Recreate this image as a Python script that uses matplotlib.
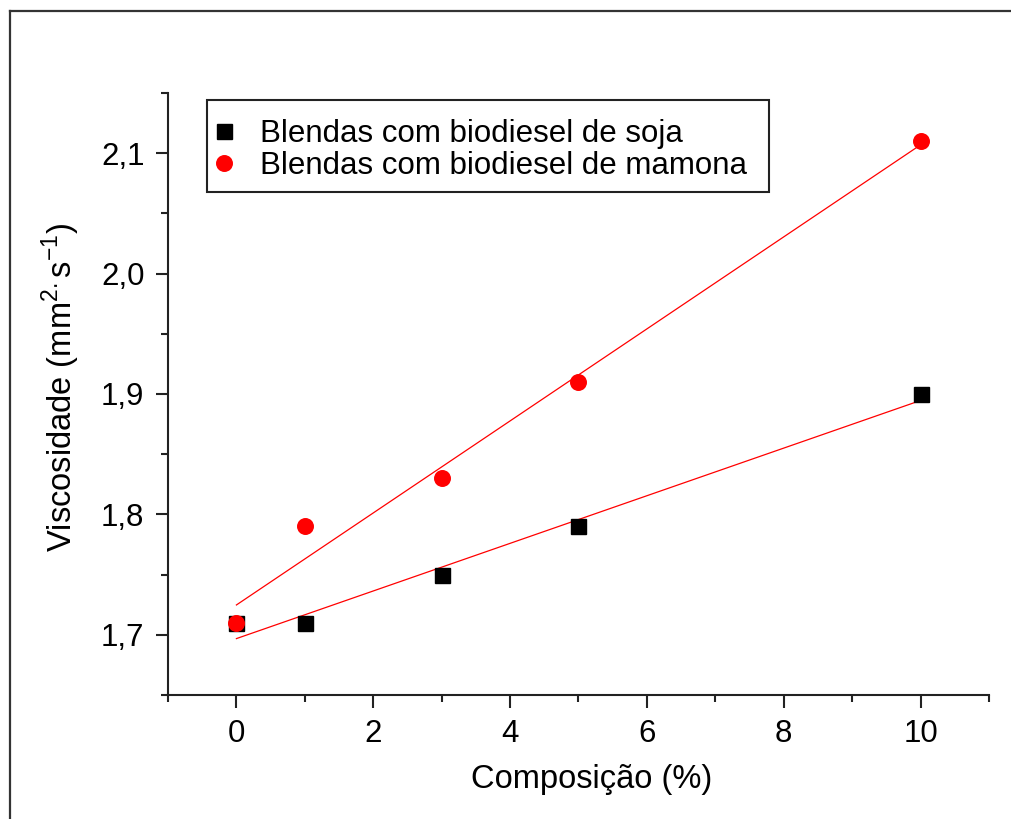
import numpy as np
import matplotlib
matplotlib.use("Agg")
import matplotlib.pyplot as plt
from matplotlib.ticker import MultipleLocator, FuncFormatter
from matplotlib.lines import Line2D
from matplotlib.patches import Rectangle

plt.rcParams['font.family'] = ['Liberation Sans', 'DejaVu Sans']

# Data
composicao = [0, 1, 3, 5, 10]
visc_soja = [1.71, 1.71, 1.75, 1.79, 1.90]
visc_mamona = [1.71, 1.79, 1.83, 1.91, 2.11]
label_soja = "Blendas com biodiesel de soja"
label_mamona = "Blendas com biodiesel de mamona"
xlabel = "Composição (%)"
ylabel = r"Viscosidade (mm$^{\mathregular{2.}}$s$^{\mathregular{-1}}$)"

W, H = 1012, 819
fig = plt.figure(figsize=(W/100, H/100), dpi=100)
ax = fig.add_axes([168/W, 1-695/H, (989-168)/W, (695-93)/H])

x = np.array(composicao, dtype=float)
for yv in (visc_soja, visc_mamona):
    p = np.polyfit(x, np.array(yv), 1)
    xs = np.array([x.min(), x.max()])
    ax.plot(xs, np.polyval(p, xs), color='red', lw=0.9, zorder=2)

ax.plot(composicao, visc_soja, ls='none', marker='s', ms=10.8, color='black',
        label=label_soja, zorder=3)
ax.plot(composicao, visc_mamona, ls='none', marker='o', ms=11.2, color='red',
        label=label_mamona, zorder=4)

ax.set_xlim(-1, 11)
ax.set_ylim(1.65, 2.15)
ax.xaxis.set_major_locator(MultipleLocator(2))
ax.xaxis.set_minor_locator(MultipleLocator(1))
ax.yaxis.set_major_locator(MultipleLocator(0.1))
ax.yaxis.set_minor_locator(MultipleLocator(0.05))
ax.yaxis.set_major_formatter(FuncFormatter(lambda v, pos: f"{v:.1f}".replace('.', ',')))
ax.xaxis.set_major_formatter(FuncFormatter(lambda v, pos: f"{v:.0f}"))

for s in ('top', 'right'):
    ax.spines[s].set_visible(False)
for s in ('left', 'bottom'):
    ax.spines[s].set_linewidth(1.5)
    ax.spines[s].set_color('#222222')

ax.tick_params(which='major', direction='out', length=9, width=1.5, labelsize=22.5,
               colors='#222222', labelcolor='black', pad=8)
ax.tick_params(which='minor', direction='out', length=5, width=1.5, colors='#222222')

ax.set_xlabel(xlabel, fontsize=23.5)
ax.xaxis.set_label_coords(0.516, -0.115)
ax.set_ylabel(ylabel, fontsize=23.5)
ax.yaxis.set_label_coords((82-168)/821, (695-387.5)/602)

# legend frame drawn explicitly
frame = Rectangle((207/W, 1-192/H), (769-207)/W, (192-100)/H, transform=fig.transFigure,
                  facecolor='white', edgecolor='#222222', lw=1.5, zorder=5)
fig.add_artist(frame)

leg = ax.legend(loc='upper left', bbox_to_anchor=(216/W, 1-119/H),
                bbox_transform=fig.transFigure, borderaxespad=0,
                fontsize=22.5, frameon=False,
                handlelength=0.5, handletextpad=0.9, labelspacing=0.05,
                borderpad=0.0, markerscale=1.0)
leg.set_zorder(6)
leg.remove()
fig.add_artist(leg)

# figure border (left and top visible)
fig.add_artist(Line2D([10/W, 10/W], [0, 1-11/H], color='#333333', lw=1.6,
                      transform=fig.transFigure))
fig.add_artist(Line2D([10/W, 1], [1-11/H, 1-11/H], color='#333333', lw=1.6,
                      transform=fig.transFigure))

fig.savefig("out.png", dpi=100)
